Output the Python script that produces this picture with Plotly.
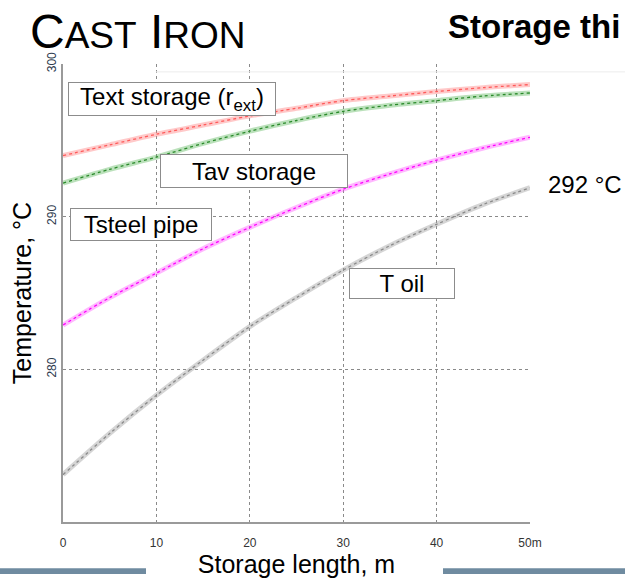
import plotly.graph_objects as go

# Storage length, m
length_m = [0, 5, 10, 15, 20, 25, 30, 35, 40, 45, 50]
# Temperatures, °C
t_ext_storage = [294.0, 294.7, 295.4, 296.0, 296.6, 297.1, 297.6, 297.9, 298.2, 298.45, 298.65]
t_av_storage = [292.2, 293.1, 293.9, 294.8, 295.6, 296.3, 296.9, 297.3, 297.6, 297.9, 298.1]
t_steel_pipe = [282.9, 284.7, 286.3, 287.9, 289.3, 290.6, 291.8, 292.8, 293.7, 294.5, 295.2]
t_oil = [273.1, 275.8, 278.3, 280.6, 282.8, 284.7, 286.5, 288.1, 289.5, 290.8, 291.9]

x_tickvals = [0, 10, 20, 30, 40, 50]
x_ticktext = ["0", "10", "20", "30", "40", "50m"]
y_tickvals = [280, 290, 300]
y_ticktext = ["280", "290", "300"]

FONT = "Liberation Sans, Arial, sans-serif"

series = [
    (t_ext_storage, "rgba(255,120,120,0.40)", "#ff5a5a"),
    (t_av_storage, "rgba(60,170,60,0.35)", "#2a8a2a"),
    (t_steel_pipe, "rgba(255,80,255,0.40)", "#ff00ff"),
    (t_oil, "rgba(150,150,150,0.40)", "#8a8a8a"),
]

fig = go.Figure()
for ys, light, dark in series:
    fig.add_trace(go.Scatter(x=length_m, y=ys, mode="lines",
                             line=dict(color=light, width=5, shape="spline", smoothing=0.8),
                             hoverinfo="skip", showlegend=False))
    fig.add_trace(go.Scatter(x=length_m, y=ys, mode="lines",
                             line=dict(color=dark, width=1.3, dash="dot", shape="spline", smoothing=0.8),
                             showlegend=False))

ann_box = dict(xref="paper", yref="paper", showarrow=False, xanchor="center", yanchor="middle",
               font=dict(family=FONT, size=24, color="black"),
               bordercolor="#8c8c8c", borderwidth=1, bgcolor="white", borderpad=1)

def px(xp):
    return (xp - 63) / 467.0

def py(yp):
    return (530 - yp) / 466.0

annotations = [
    dict(text="Text storage (r<sub>ext</sub>)", x=px(172), y=py(100), width=204, height=30, **ann_box),
    dict(text="Tav storage", x=px(254), y=py(173), width=184, height=30, **ann_box),
    dict(text="Tsteel pipe", x=px(141), y=py(227), width=138, height=29, **ann_box),
    dict(text="T oil", x=px(402), y=py(287), width=102, height=27, **ann_box),
    dict(text="292 °C", xref="paper", yref="paper", x=px(546), y=py(187), xanchor="left",
         yanchor="middle", showarrow=False, font=dict(family=FONT, size=24, color="black")),
    dict(text="C<span style='font-size:37px'>AST</span> I<span style='font-size:37px'>RON</span>",
         xref="paper", yref="paper", x=px(28), y=py(31), xanchor="left", yanchor="middle",
         showarrow=False, font=dict(family=FONT, size=48, color="black")),
    dict(text="<b>Storage thi</b>", xref="paper", yref="paper", x=px(446), y=py(26),
         xanchor="left", yanchor="middle", showarrow=False,
         font=dict(family=FONT, size=33, color="black")),
]

shapes = [
    # faint slide rule
    dict(type="line", xref="paper", yref="paper", x0=px(156), x1=px(625), y0=py(72), y1=py(72),
         line=dict(color="#ececec", width=1)),
    # bottom slide bars
    dict(type="rect", xref="paper", yref="paper", x0=px(0), x1=px(146), y0=py(583), y1=py(577),
         fillcolor="#6f8ba0", line=dict(width=0)),
    dict(type="rect", xref="paper", yref="paper", x0=px(443), x1=px(625), y0=py(583), y1=py(577),
         fillcolor="#6f8ba0", line=dict(width=0)),
]

fig.update_layout(
    width=625, height=583,
    margin=dict(l=63, r=95, t=64, b=53),
    paper_bgcolor="white", plot_bgcolor="white",
    font=dict(family=FONT, color="black"),
    annotations=annotations, shapes=shapes,
    showlegend=False,
)
fig.update_xaxes(
    range=[0, 50], tickvals=x_tickvals, ticktext=x_ticktext,
    tickfont=dict(family=FONT, size=12, color="#333333"), ticklabelstandoff=9,
    showgrid=True, gridcolor="#8a8a8a", griddash="dot", gridwidth=1,
    showline=True, linecolor="#9a9a9a", linewidth=2, ticks="", zeroline=False,
    title=dict(text="Storage length, m", font=dict(family=FONT, size=25, color="black"), standoff=3),
)
fig.update_yaxes(
    range=[270, 300], tickvals=y_tickvals, ticktext=y_ticktext, tickangle=-90,
    tickfont=dict(family=FONT, size=12, color="#2e3b4e"),
    showgrid=True, gridcolor="#8a8a8a", griddash="dot", gridwidth=1,
    showline=True, linecolor="#9a9a9a", linewidth=2, ticks="", zeroline=False,
    title=dict(text="Temperature, °C", font=dict(family=FONT, size=25, color="black"), standoff=6),
)

fig.write_html("out.html")
